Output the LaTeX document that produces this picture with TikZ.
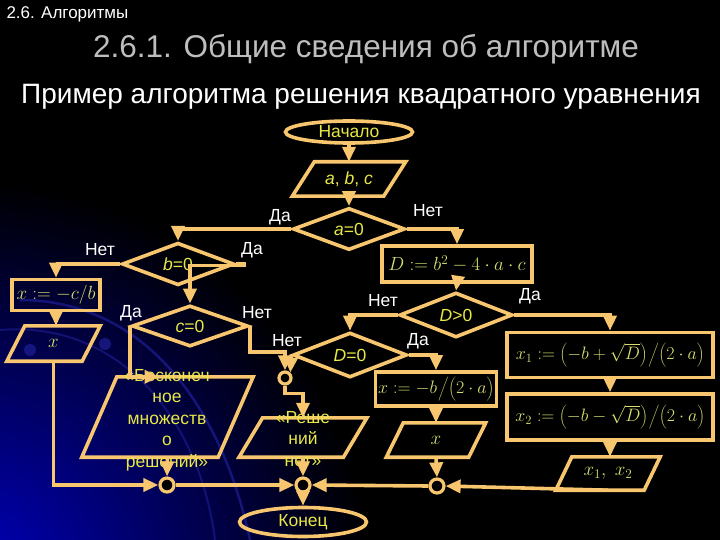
\RequirePackage{fix-cm}
\documentclass[tikz,border=0pt]{standalone}
\usepackage{fontspec}
\setmainfont{Liberation Sans}
\usetikzlibrary{shapes.geometric,arrows.meta,calc}
\definecolor{ora}{RGB}{248,198,110}
\definecolor{ylw}{RGB}{232,232,70}
\definecolor{mth}{RGB}{215,222,110}
\definecolor{ttl}{RGB}{190,190,190}
\definecolor{bgblue}{RGB}{0,0,190}
\definecolor{arcblue}{RGB}{30,30,150}
\newcommand\strutbig{\rule[-7pt]{0pt}{24pt}}
\newcommand\strutmid{\rule[-6pt]{0pt}{21pt}}
\newcommand\paral[6]{%
  \node[inner sep=0,minimum width=#4,minimum height=#5] (#1) at (#2,#3) {};
  \draw[ln] ($(#1.north west)+(#6,0)$) -- ($(#1.north east)+(#6,0)$) --
    ($(#1.south east)+(-#6,0)$) -- ($(#1.south west)+(-#6,0)$) -- cycle;
}
\begin{document}
\begin{tikzpicture}[x=1pt,y=-1pt,
  ln/.style={draw=ora,line width=3.6pt},
  arr/.style={draw=ora,line width=3.6pt,-{Triangle[length=15pt,width=13pt]}},
  lbl/.style={text=white,font=\fontsize{17.5}{20}\selectfont},
  txt/.style={text=ylw,font=\fontsize{17.5}{20}\selectfont},
  mtxt/.style={text=mth,font=\fontsize{19}{22}\selectfont},
  dia/.style n args={2}{diamond,ln,minimum width=#1,minimum height=#2,inner sep=0,txt},
  box/.style n args={2}{rectangle,ln,minimum width=#1,minimum height=#2,inner sep=0,mtxt},
  term/.style n args={2}{ellipse,ln,minimum width=#1,minimum height=#2,inner sep=0,txt},
  jn/.style={circle,draw=ora,line width=3.2pt,fill=black,minimum size=#1,inner sep=0},
]
% background
\fill[black] (0,0) rectangle (720,540);
\begin{scope}
  \clip (0,0) rectangle (720,540);
  \shade[inner color=bgblue,outer color=black] (-30,580) circle (400);
  \draw[arcblue,line width=2.5pt,opacity=.7] (20,300) .. controls (140,300) and (220,400) .. (250,540);
  \draw[arcblue,line width=2pt,opacity=.6] (0,330) .. controls (120,320) and (200,420) .. (215,540);
  \fill[arcblue,opacity=.7] (30,350) circle (6);
  \fill[arcblue,opacity=.7] (105,344) circle (6);
\end{scope}
\useasboundingbox (0,0) rectangle (720,540);

% titles
\node[anchor=west,text=white,font=\fontsize{17}{20}\selectfont] (sec) at (3,14) {2.6. Алгоритмы};
\node[text=ttl,font=\fontsize{31.5}{36}\selectfont] (title) at (366,49) {2.6.1. Общие сведения об алгоритме};
\node[text=white,font=\fontsize{28}{32}\selectfont] (sub) at (361,97) {Пример алгоритма решения квадратного уравнения};

% terminals
\node[term={127}{22}] (start) at (349,132) {Начало};
\node[term={127}{29}] (end) at (303,522) {Конец};

% parallelograms
\paral{abc}{349}{179}{91}{34}{11}
\node[txt] (abc-t) at (abc) {\textit{a}, \textit{b}, \textit{c}};
\paral{xp1}{53.5}{343.5}{75}{35}{9}
\node[mtxt] (xp1-t) at (xp1) {$x$};
\paral{inf}{167.5}{417}{136}{80}{17.5}
\paral{nosol}{303}{437.5}{104}{39}{11.75}
\paral{xp2}{436}{440}{82}{34}{8.5}
\node[mtxt] (xp2-t) at (xp2) {$x$};
\paral{x12}{608}{473.5}{88}{33}{8}
\node[mtxt] (x12-t) at (x12) {$x_1,\;x_2$};

% decisions
\node[dia={112}{32}] (a0) at (349,229) {\textit{a}=0};
\node[dia={112}{36}] (b0) at (178,264) {\textit{b}=0};
\node[dia={116}{33}] (c0) at (190,326) {\textit{c}=0};
\node[dia={113}{34}] (Dg) at (456,315) {\textit{D}>0};
\node[dia={114}{34}] (D0) at (350,355) {\textit{D}=0};

% process boxes
\node[box={88}{31}] (r1) at (56,295) {$x:=-c\big/b$};
\node[box={150}{36}] (Dr) at (457,264) {$D:=b^2-4\cdot a\cdot c$};
\node[box={206}{45},font=\fontsize{18}{22}\selectfont] (x1) at (610,355)
  {$x_1:={\left(-b+\sqrt{D}\strutbig\right)}{\left.\strutbig\right/}{\left(2\cdot a\strutbig\right)}$};
\node[box={206}{46},font=\fontsize{18}{22}\selectfont] (x2) at (610,417)
  {$x_2:={\left(-b-\sqrt{D}\strutbig\right)}{\left.\strutbig\right/}{\left(2\cdot a\strutbig\right)}$};
\node[box={121}{34},font=\fontsize{18}{22}\selectfont] (xb) at (436,389)
  {$x:=-b{\left.\strutmid\right/}{\left(2\cdot a\strutmid\right)}$};

% junctions
\node[jn=14] (j1) at (167,485) {};
\node[jn=14] (j2) at (303,485) {};
\node[jn=14] (j3) at (437,486) {};
\node[jn=12] (j0) at (285,378) {};

% multi-line texts
\node[text=ylw,font=\fontsize{17.5}{21.5}\selectfont,align=center] (inf-t) at (167,420)
  {«Бесконеч\\ное\\множеств\\о\\решений»};
\node[text=ylw,font=\fontsize{17.5}{21.5}\selectfont,align=center] (nosol-t) at (303,439)
  {«Реше\\ний\\нет»};

% connectors
\draw[arr] (start) -- (abc);
\draw[arr] (abc) -- (a0);
\draw[arr] (a0.west) -| (b0.north);
\draw[arr] (a0.east) -| (Dr.north);
\draw[arr] (b0.west) -| (r1.north);
\draw[arr] (b0.east) -- ++(8,0) |- ($(c0.north)+(0,-38)$) -- (c0.north);
\draw[arr] (r1.south) -- (r1.south |- xp1.north);
\draw[arr] (xp1.south) |- (j1.west);
\draw[arr] (c0.west) |- ($(inf.north)+(-8,0)$);
\draw[arr] (inf.south) -- (j1.north);
\draw[arr] (j1.east) -- (j2.west);
\draw[arr] (c0.east) -- ++(0,26) -| (j0.north);
\draw[arr] (D0.west) -- (j0.north east);
\draw[arr] (j0.south) -- ++(0,8) -| (nosol.north);
\draw[arr] (nosol.south) -- (j2.north);
\draw[arr] (j2.south) -- (end.north);
\draw[arr] (Dr.south) -- (Dg.north);
\draw[arr] (Dg.west) -| (D0.north);
\draw[arr] (Dg.east) -| (x1.north);
\draw[arr] (x1.south) -- (x2.north);
\draw[arr] (x2.south) -- (x2.south |- x12.north);
\draw[arr] (x12.south) -- (j3.east);
\draw[arr] (j3.west) -- (j2.east);
\draw[arr] (D0.east) -| (xb.north);
\draw[arr] (xb.south) -- (xp2.north);
\draw[arr] (xp2.south) -- (j3.north);

% branch labels
\node[lbl] (l1) at (280,217) {Да};
\node[lbl] (l2) at (428,211) {Нет};
\node[lbl] (l3) at (100,250) {Нет};
\node[lbl] (l4) at (252,250) {Да};
\node[lbl] (l5) at (131,313) {Да};
\node[lbl] (l6) at (257,313) {Нет};
\node[lbl] (l7) at (383,301) {Нет};
\node[lbl] (l8) at (530,296) {Да};
\node[lbl] (l9) at (287,341) {Нет};
\node[lbl] (l10) at (418,341) {Да};
\end{tikzpicture}
\end{document}
